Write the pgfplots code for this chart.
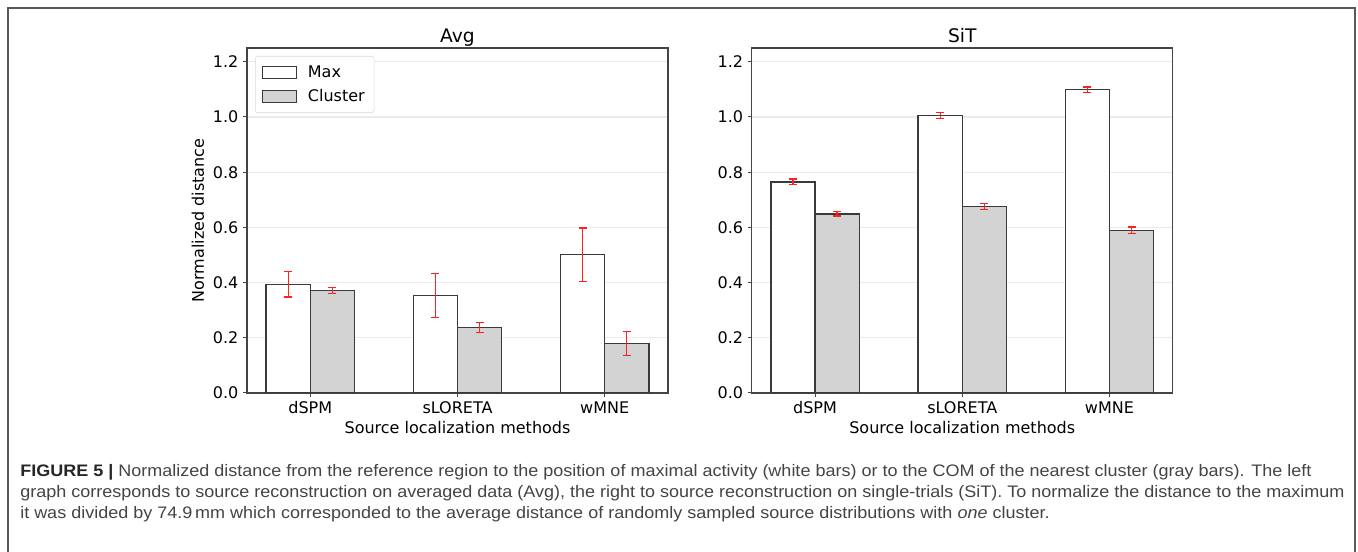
\documentclass[border=0pt]{standalone}
\usepackage{fontspec}
\setmainfont{DejaVu Sans}
\newfontfamily\capfont[FakeStretch=1.08]{Liberation Sans}
\usepackage{pgfplots}
\pgfplotsset{compat=1.18}
\definecolor{framec}{HTML}{444444}
\definecolor{barc}{HTML}{3A3A3A}
\definecolor{gridc}{HTML}{EBEBEB}
\definecolor{barfill}{HTML}{D3D3D3}
\definecolor{capc}{HTML}{444444}
\definecolor{errc}{HTML}{FF2020}
\pgfplotsset{
  myaxis/.style={
    scale only axis, width=315.75pt, height=258.75pt,
    xmin=-0.43, xmax=2.43, ymin=0, ymax=1.25,
    xtick={0,1,2}, xticklabels={dSPM,sLORETA,wMNE},
    ytick={0,0.2,0.4,0.6,0.8,1.0,1.2},
    yticklabel style={/pgf/number format/.cd, fixed, fixed zerofill, precision=1},
    /pgf/number format/assume math mode=true,
    ymajorgrids, grid style={color=gridc, line width=1pt},
    axis line style={framec, line width=1pt},
    tick style={framec, line width=0.75pt},
    tick align=outside, major tick length=3pt,
    xtick pos=lower, ytick pos=left,
    ticklabel style={font=\fontsize{12}{14}\selectfont},
    label style={font=\fontsize{12}{14}\selectfont},
    every axis title shift=0pt,
    title style={font=\fontsize{14}{16}\selectfont, inner sep=0pt, anchor=base, at={(0.5,1)}, yshift=3.75pt},
    xlabel style={at={(axis description cs:0.5,-0.1014)}, anchor=center},
    ybar, bar width=0.3, bar shift=0pt,
  },
  errplot/.style={draw=none, fill=none, forget plot,
    error bars/.cd, y dir=both, y explicit,
    error bar style={draw=errc, line width=1pt, solid},
    error mark options={draw=errc, line width=1pt, mark size=3pt, rotate=90, solid}},
  maxbar/.style={fill=white, draw=barc, line width=1pt,
    legend image code/.code={\draw[##1, sharp corners] (0pt,-4.5pt) rectangle (25.5pt,4.5pt);}},
  clbar/.style={fill=barfill, draw=barc, line width=1pt,
    legend image code/.code={\draw[##1, sharp corners] (0pt,-4.5pt) rectangle (25.5pt,4.5pt);}},
}
\begin{document}
\begin{tikzpicture}
\useasboundingbox (0,0) rectangle (1018.5pt,414pt);
\draw[black!65, line width=1.1pt] (6pt,0) -- (6pt,408pt) -- (1016.25pt,408pt) -- (1016.25pt,0);

\begin{axis}[myaxis, at={(185.25pt,119.25pt)}, anchor=south west,
  title={Avg}, xlabel={Source localization methods}, ylabel={Normalized distance},
  ylabel style={at={(axis description cs:-0.1164,0.5)}, anchor=center},
  legend style={at={(0,1)}, anchor=north west, xshift=6pt, yshift=-6pt,
    draw=black!15, rounded corners=2pt, font=\fontsize{12}{14}\selectfont,
    row sep=3.5pt, inner xsep=5pt, inner ysep=5pt,
    /tikz/every odd column/.append style={column sep=6pt}},
  legend cell align=left]
\addplot[maxbar] coordinates {(-0.15,0.394) (0.85,0.353) (1.85,0.501)};
\addplot[clbar] coordinates {(0.15,0.371) (1.15,0.237) (2.15,0.180)};
\legend{Max, Cluster}
\addplot[errplot] coordinates {(-0.15,0.394) +- (0,0.046) (0.85,0.353) +- (0,0.080) (1.85,0.501) +- (0,0.097)};
\addplot[errplot] coordinates {(0.15,0.371) +- (0,0.011) (1.15,0.237) +- (0,0.018) (2.15,0.180) +- (0,0.044)};
\end{axis}

\begin{axis}[myaxis, at={(563.8pt,119.25pt)}, anchor=south west,
  title={SiT}, xlabel={Source localization methods}]
\addplot[maxbar] coordinates {(-0.15,0.765) (0.85,1.005) (1.85,1.099)};
\addplot[clbar] coordinates {(0.15,0.649) (1.15,0.675) (2.15,0.589)};
\addplot[errplot] coordinates {(-0.15,0.765) +- (0,0.010) (0.85,1.005) +- (0,0.011) (1.85,1.099) +- (0,0.010)};
\addplot[errplot] coordinates {(0.15,0.649) +- (0,0.008) (1.15,0.675) +- (0,0.011) (2.15,0.589) +- (0,0.012)};
\end{axis}

\begin{scope}[capc, font=\capfont\fontsize{12.5}{14}\selectfont]
\node[anchor=base west, inner sep=0pt] at (15pt,56.25pt) {{\color{black!85}\textbf{FIGURE 5 |}} Normalized distance from the reference region to the position of maximal activity (white bars) or to the COM of the nearest cluster (gray bars). The left};
\node[anchor=base west, inner sep=0pt] at (15pt,40.5pt) {graph corresponds to source reconstruction on averaged data (Avg), the right to source reconstruction on single-trials (SiT). To normalize the distance to the maximum};
\node[anchor=base west, inner sep=0pt] at (15pt,24.75pt) {it was divided by 74.9\,mm which corresponded to the average distance of randomly sampled source distributions with \textit{one} cluster.};
\end{scope}
\end{tikzpicture}
\end{document}
